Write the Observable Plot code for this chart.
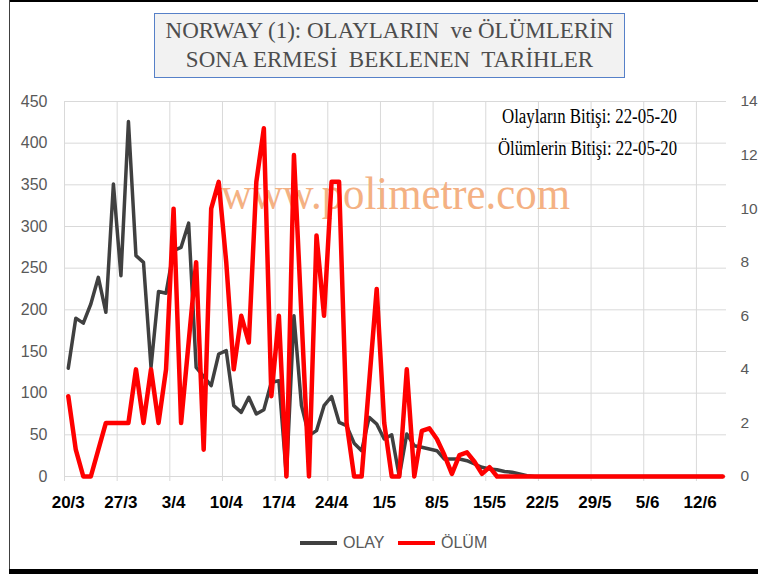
<!DOCTYPE html>
<html>
<head>
<meta charset="utf-8">
<script src="https://cdn.jsdelivr.net/npm/d3@7"></script>
<script src="https://cdn.jsdelivr.net/npm/@observablehq/plot@0.6"></script>
<style>
  html, body { margin: 0; padding: 0; background: #fff; }
  #wrap { position: relative; width: 758px; height: 574px; overflow: hidden; background: #fff; }
  #chart { position: absolute; left: 0; top: 0; }
  #title {
    position: absolute; left: 154px; top: 13px; width: 471px; height: 65px;
    box-sizing: border-box; background: #f2f2f2; border: 1.5px solid #5680c8;
    font-family: "Liberation Serif", "Times New Roman", serif; font-size: 23px;
    color: #4d4d4d; text-align: center; line-height: 29px; padding-top: 2px;
    white-space: pre;
  }
  .frame { position: absolute; background: #000; }
  #legend { position: absolute; left: 0; top: 0; width: 758px; height: 574px; pointer-events: none;
    font-family: "Liberation Sans", Arial, sans-serif; font-size: 16px; color: #595959; }
  .sw { position: absolute; height: 4px; top: 541px; }
  .lt { position: absolute; top: 534px; line-height: 18px; }
</style>
</head>
<body>
<div id="wrap">
  <div id="chart"></div>
  <div class="frame" style="left:9px;top:0;width:749px;height:2px;"></div>
  <div class="frame" style="left:9px;top:0;width:1px;height:574px;background:#404040;"></div>
  <div class="frame" style="left:9px;top:569px;width:749px;height:5px;"></div>
  <div id="title"></div>
  <div id="legend"></div>
</div>
<script>
// ---- data ----
const startDate = "2020-03-20";      // first category (daily categories)
const dayCount = 88;                  // 20/3 .. 15/6
const olay = [130,190,184,207,239,197,351,241,426,265,257,131,222,220,271,275,304,131,120,109,
  147,151,85,77,95,75,80,113,115,0,193,85,49,55,85,96,65,61,40,31,
  71,63,45,50,0,51,37,35,33,31,21,21,21,19,15,11,9,8,6,5,
  3,1,0,0,0,0,0,0,0,0,0,0,0,0,0,0,0,0,0,0,
  0,0,0,0,0,0,0,0];
const olum = [3,1,0,0,1,2,2,2,2,4,2,4,2,4,10,2,5,8,1,10,
  11,8,4,6,5,11,13,3,6,0,12,6,0,9,6,11,11,2,0,0,
  3.5,7,2,0,0,4,0,1.7,1.8,1.4,0.8,0.1,0.8,0.9,0.55,0.1,0.35,0,0,0,
  0,0,0,0,0,0,0,0,0,0,0,0,0,0,0,0,0,0,0,0,
  0,0,0,0,0,0,0,0];
const xTickLabels = ["20/3","27/3","3/4","10/4","17/4","24/4","1/5","8/5","15/5","22/5","29/5","5/6","12/6"];
const leftTicks = [0,50,100,150,200,250,300,350,400,450];
const rightTicks = [0,2,4,6,8,10,12,14];
const seriesNames = ["OLAY","ÖLÜM"];
const titleLines = ["NORWAY (1): OLAYLARIN  ve ÖLÜMLERİN", "SONA ERMESİ  BEKLENEN  TARİHLER"];
const notes = ["Olayların Bitişi: 22-05-20", "Ölümlerin Bitişi: 22-05-20"];
const watermark = "www.polimetre.com";

// ---- derived ----
const start = d3.utcParse("%Y-%m-%d")(startDate);
const days = d3.range(dayCount).map(i => d3.utcDay.offset(start, i));
const end = d3.utcDay.offset(start, dayCount);
const centers = days.map(d => d3.utcHour.offset(d, 12));
const rows = days.map((d, i) => ({date: centers[i], olay: olay[i], olum: olum[i]}));
const ratio = 450 / 14;
const weekStarts = xTickLabels.map((_, k) => days[k * 7]);
const weekCenters = xTickLabels.map((_, k) => centers[k * 7]);
const labelByTime = new Map(weekCenters.map((d, k) => [+d, xTickLabels[k]]));

const chart = Plot.plot({
  width: 758, height: 574,
  marginTop: 101, marginBottom: 98, marginLeft: 64, marginRight: 32,
  style: {background: "transparent", overflow: "hidden", fontFamily: "Liberation Sans, Arial, sans-serif"},
  x: {type: "utc", domain: [start, end]},
  y: {domain: [0, 450]},
  marks: [
    Plot.ruleY(leftTicks, {stroke: "#d9d9d9", strokeWidth: 1}),
    Plot.ruleX(weekStarts, {stroke: "#d9d9d9", strokeWidth: 1}),
    Plot.axisX({ticks: weekStarts, tickSize: 5, tickFormat: () => "", stroke: "#d9d9d9", strokeOpacity: 1, label: null}),
    Plot.axisX({ticks: weekCenters, tickSize: 0, tickPadding: 19, tickFormat: d => labelByTime.get(+d),
      fontSize: 17, fontWeight: "bold", fill: "#000", label: null}),
    Plot.axisY({ticks: leftTicks, tickSize: 0, tickPadding: 17, fontSize: 16, fill: "#595959", label: null}),
    Plot.axisY({anchor: "right", ticks: rightTicks.map(v => v * ratio), tickFormat: d => String(Math.round(d / ratio)),
      tickSize: 0, tickPadding: 14, fontSize: 15.5, fill: "#595959", label: null}),
    Plot.text([watermark], {frameAnchor: "top", dy: 107, lineAnchor: "bottom", textAnchor: "middle",
      fontFamily: "Liberation Serif, Times New Roman, serif", fontSize: 46, fill: "#f4b183"}),
    Plot.text([notes[0]], {frameAnchor: "top-left", dx: 525, dy: 21, lineAnchor: "bottom", textAnchor: "middle",
      fontFamily: "Liberation Serif, Times New Roman, serif", fontSize: 20, fill: "#000"}),
    Plot.text([notes[1]], {frameAnchor: "top-left", dx: 523, dy: 53, lineAnchor: "bottom", textAnchor: "middle",
      fontFamily: "Liberation Serif, Times New Roman, serif", fontSize: 20, fill: "#000"}),
    Plot.line(rows, {x: "date", y: "olay", stroke: "#404040", strokeWidth: 3.5, strokeLinejoin: "round"}),
    Plot.line(rows, {x: "date", y: d => d.olum * ratio, stroke: "#ff0000", strokeWidth: 4.5, strokeLinejoin: "round"})
  ]
});
document.getElementById("chart").appendChild(chart);

// compress the wide serif texts horizontally, as in the reference
const fit = new Map([[watermark, 349], [notes[0], 175], [notes[1], 179]]);
d3.select(chart).selectAll("text").each(function() {
  const t = this.textContent;
  if (fit.has(t)) d3.select(this).attr("textLength", fit.get(t)).attr("lengthAdjust", "spacingAndGlyphs");
});

// title
document.getElementById("title").textContent = titleLines.join("\n");

// legend
const colors = ["#404040", "#ff0000"];
const lg = document.getElementById("legend");
const swX = [300, 398], txX = [343, 441];
seriesNames.forEach((n, i) => {
  const s = document.createElement("div");
  s.className = "sw"; s.style.left = swX[i] + "px"; s.style.width = "37px"; s.style.background = colors[i];
  lg.appendChild(s);
  const t = document.createElement("div");
  t.className = "lt"; t.style.left = txX[i] + "px"; t.textContent = n;
  lg.appendChild(t);
});
</script>
</body>
</html>
